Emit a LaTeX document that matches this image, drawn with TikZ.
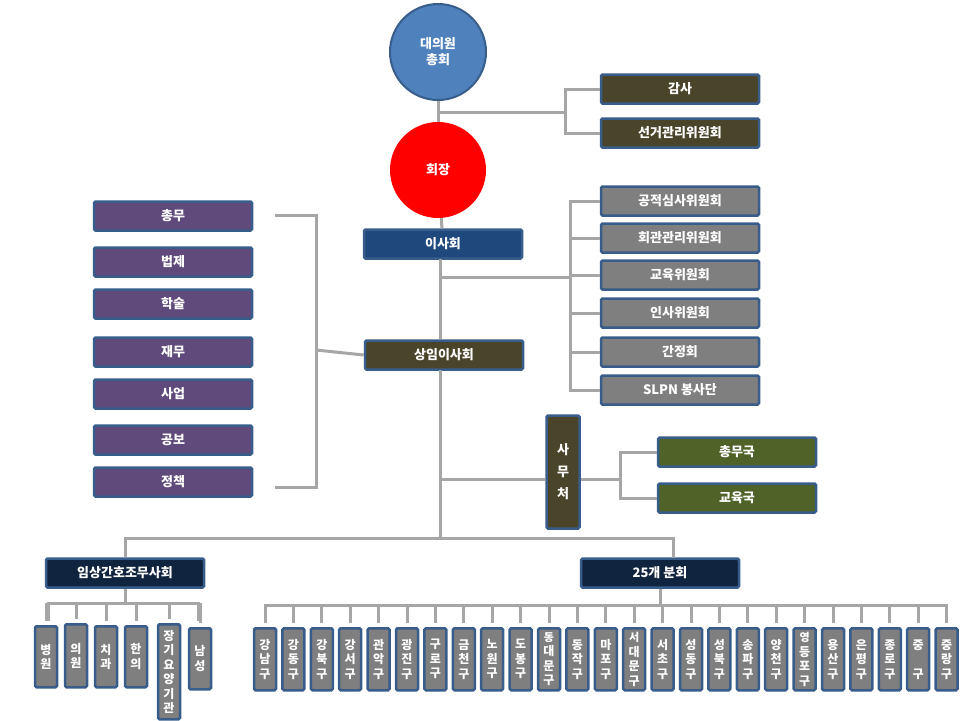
\documentclass[tikz,border=0pt]{standalone}
\usepackage{fontspec}
\setmainfont{Noto Sans CJK KR}
\usetikzlibrary{positioning,calc}
\definecolor{edge}{HTML}{385D8A}
\definecolor{olive}{HTML}{4A452A}
\definecolor{navy}{HTML}{1F497D}
\definecolor{deepnavy}{HTML}{10243F}
\definecolor{plum}{HTML}{604A7B}
\definecolor{moss}{HTML}{4F6228}
\definecolor{slate}{HTML}{7F7F7F}
\definecolor{wire}{HTML}{A6A6A6}
\tikzset{
  box/.style={draw=edge, line width=2.5pt, rounded corners=1.5pt, text=white,
    font=\fontsize{13}{15}\selectfont\bfseries, minimum width=158pt, minimum height=29pt, inner sep=0pt},
  vbox/.style={box, minimum width=22pt, minimum height=60pt, align=center,
    font=\fontsize{12}{14.5}\selectfont\bfseries},
  link/.style={draw=wire, line width=3pt},
}
\begin{document}
\begin{tikzpicture}[x=1pt,y=-1pt]
\useasboundingbox (0,0) rectangle (960,720);
% top
\node[circle, fill={rgb,255:red,79;green,129;blue,189}, draw=edge, line width=2pt, minimum size=96pt,
  text=white, align=center, font=\fontsize{13}{16}\selectfont\bfseries] (assembly) at (438,52) {대의원\\총회};
\node[circle, fill=red, minimum size=96pt, text=white, font=\fontsize{13}{15}\selectfont\bfseries] (chair) at (438,170) {회장};
\node[box, fill=olive] (audit) at (680,89) {감사};
\node[box, fill=olive] (election) at (680,133) {선거관리위원회};
\coordinate (ja) at (438,112);
\coordinate (jb) at (565,112);
\draw[link] (assembly) -- (chair);
\draw[link] (ja) -- (jb);
\draw[link] (audit.west) -| (jb) |- (election.west);
% board
\node[box, fill=navy] (board) at (443,244) {이사회};
\node[box, fill=olive] (standing) at (444,355) {상임이사회};
\draw[link] (chair) -- (board);
\draw[link] (440,259) -- (standing.north -| 440,0);
% committees
\foreach \name/\txt/\y in {c1/공적심사위원회/201, c2/회관관리위원회/238, c3/교육위원회/275,
  c4/인사위원회/313, c5/간정회/352, c6/SLPN 봉사단/390}
  \node[box, fill=slate] (\name) at (680,\y) {\txt};
\coordinate (jc) at (570,277);
\draw[link] (440,277) -- (jc);
\draw[link] (c1.west) -| (570,390) -- (c6.west);
\foreach \name in {c2,c3,c4,c5}
  \draw[link] (\name.west) -- (\name.west -| jc);
% divisions
\foreach \name/\txt/\y in {d1/총무/216, d2/법제/262, d3/학술/304, d4/재무/352,
  d5/사업/394, d6/공보/440, d7/정책/482}
  \node[box, fill=plum] (\name) at (173,\y) {\txt};
\coordinate (jd) at (316,350);
\draw[link] (275,215) -| (jd) |- (275,487);
\draw[link] (jd) -- (standing.west);
% secretariat
\node[box, fill=olive, minimum width=33pt, minimum height=113pt, align=center,
  font=\fontsize{13}{22}\selectfont\bfseries] (office) at (563,472) {사\\무\\처};
\node[box, fill=moss] (o1) at (737,452) {총무국};
\node[box, fill=moss] (o2) at (737,498) {교육국};
\draw[link] (440,370) -- (440,479) -- (office.west |- 0,479);
\draw[link] (office.east |- 0,479) -- (620,479);
\draw[link] (o1.west) -| (620,498) -- (o2.west);
% bottom
\node[box, fill=deepnavy] (clinic) at (125,573) {임상간호조무사회};
\node[box, fill=deepnavy] (branch) at (660,573) {25개 분회};
\draw[link] (440,479) -- (440,538);
\draw[link] (clinic.north) -- (125,538) -- (673,538) -- (673,558);
% clinic members
\draw[link] (clinic.south) -- (125,603);
\draw[link] (48,621) -- (48,603) -- (198,603) -- (198,621);
\foreach \name/\txt/\x/\top/\h in {k1/병\\원/46/625/61, k2/의\\원/76/623/63, k3/치\\과/106/625/61,
  k4/한\\의/136/625/61, k5/장\\기\\요\\양\\기\\관/169/623/95, k6/남\\성/200/627/61}{
  \node[vbox, fill=slate, minimum height=\h pt, anchor=north] (\name) at (\x,\top) {\txt};
  \draw[link] (\name.north -| \x,0) ++(0,-4) -- (\x,603);
}
% districts
\draw[link] (branch.south) -- (660,605);
\draw[link] (265,621) -- (265,605) -- (946,605) -- (946,621);
\foreach \txt [count=\i] in {강\\남\\구, 강\\동\\구, 강\\북\\구, 강\\서\\구, 관\\악\\구, 광\\진\\구,
  구\\로\\구, 금\\천\\구, 노\\원\\구, 도\\봉\\구, {\fontsize{11}{12.5}\selectfont 동\\대\\문\\구},
  동\\작\\구, 마\\포\\구, {\fontsize{11}{12.5}\selectfont 서\\대\\문\\구}, 서\\초\\구, 성\\동\\구,
  성\\북\\구, 송\\파\\구, 양\\천\\구, {\fontsize{11}{12.5}\selectfont 영\\등\\포\\구}, 용\\산\\구,
  은\\평\\구, 종\\로\\구, 중\\\\구, 중\\랑\\구}{
  \pgfmathsetmacro{\xx}{265+28.4*(\i-1)}
  \node[vbox, fill=slate, minimum height=62pt, anchor=north] (g\i) at (\xx,627) {\txt};
  \draw[link] (g\i.north) ++(0,-4) -- (\xx,605);
}
\end{tikzpicture}
\end{document}
